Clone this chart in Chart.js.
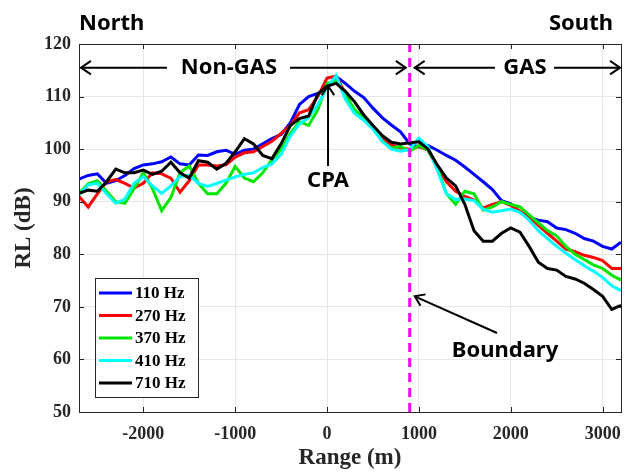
<!DOCTYPE html>
<html>
<head>
<meta charset="utf-8">
<script src="https://cdn.jsdelivr.net/npm/chart.js@4.4.1/dist/chart.umd.min.js"></script>
<style>
  html, body { margin: 0; padding: 0; background: #fff; }
  #wrap { width: 633px; height: 472px; position: relative; }
</style>
</head>
<body>
<div id="wrap"><canvas id="rlChart" width="633" height="472"></canvas></div>
<script>
// range axis in metres, sampled every 100 m
const ranges = [];
for (let r = -2700; r <= 3200; r += 100) ranges.push(r);

const freqLabels = ['110 Hz', '270 Hz', '370 Hz', '410 Hz', '710 Hz'];
const freqColors = ['#0000ff', '#ff0000', '#00e600', '#00ffff', '#000000'];

const rl110 = [94.3, 95.0, 95.3, 93.5, 94.0, 95.0, 96.3, 97.0, 97.2, 97.6, 98.5, 97.2, 97.0, 98.9, 98.8, 99.5, 99.8, 99.0, 99.8, 100.0,
  101.0, 102.0, 102.8, 105.0, 108.5, 110.0, 110.6, 111.5, 113.8, 112.5, 111.0, 109.8, 107.8, 106.0, 104.6, 103.3, 101.0, 100.4, 100.7, 99.8,
  98.8, 97.9, 96.6, 95.2, 93.8, 92.3, 90.2, 89.6, 88.0, 87.0, 86.5, 86.2, 85.0, 84.7, 84.0, 83.0, 82.5, 81.5, 81.0, 82.3];
const rl270 = [91.0, 89.0, 91.5, 93.8, 94.2, 93.5, 92.6, 93.5, 95.5, 95.3, 94.5, 91.8, 94.0, 97.0, 97.0, 96.8, 97.0, 98.5, 99.3, 99.5,
  100.5, 101.5, 103.0, 104.5, 106.9, 107.5, 110.0, 113.5, 113.9, 110.5, 107.0, 106.0, 104.3, 102.0, 100.8, 100.2, 100.0, 100.5, 99.8, 96.5,
  93.8, 92.0, 91.0, 90.3, 88.8, 89.5, 90.0, 89.3, 88.2, 87.0, 85.5, 84.0, 82.5, 81.0, 80.5, 79.8, 79.4, 78.8, 77.3, 77.3];
const rl370 = [91.6, 93.4, 94.0, 92.0, 90.0, 89.7, 92.5, 95.5, 92.5, 88.3, 90.8, 95.5, 96.8, 93.5, 91.5, 91.5, 93.5, 96.7, 94.5, 93.8,
  95.5, 98.0, 100.0, 103.0, 105.2, 104.5, 107.5, 112.5, 113.0, 110.5, 107.5, 106.0, 104.3, 101.5, 100.2, 100.5, 99.6, 100.7, 99.8, 96.5,
  91.5, 89.5, 92.0, 91.5, 88.4, 89.0, 90.0, 89.5, 89.0, 87.5, 86.0, 84.5, 83.5, 81.5, 80.0, 79.0, 78.0, 77.3, 76.0, 75.1];
const rl410 = [91.3, 93.2, 93.5, 91.5, 89.7, 90.5, 93.5, 94.8, 93.0, 91.6, 93.0, 94.8, 95.0, 93.5, 92.9, 93.5, 94.1, 94.7, 95.2, 95.5,
  96.5, 97.2, 99.0, 102.5, 104.8, 106.0, 108.5, 111.7, 114.0, 109.5, 106.8, 105.5, 103.8, 101.5, 100.0, 99.6, 99.9, 102.1, 100.5, 96.0,
  91.5, 90.4, 90.5, 90.2, 88.6, 88.0, 88.3, 88.6, 88.0, 86.5, 84.5, 83.0, 81.5, 80.2, 79.0, 77.8, 76.8, 75.6, 74.0, 73.1];
const rl710 = [91.6, 92.2, 92.0, 93.8, 96.2, 95.5, 95.5, 96.0, 95.2, 95.8, 97.5, 95.5, 94.5, 97.8, 97.5, 96.2, 97.3, 99.5, 102.0, 101.0,
  98.8, 98.2, 101.0, 104.5, 105.8, 106.3, 110.5, 112.0, 112.5, 111.0, 109.0, 106.5, 104.5, 102.6, 101.3, 101.0, 101.2, 101.4, 100.0, 97.0,
  94.5, 93.0, 89.5, 84.5, 82.5, 82.5, 84.0, 85.0, 84.2, 81.5, 78.5, 77.3, 77.0, 75.8, 75.3, 74.5, 73.3, 72.0, 69.5, 70.3];

const xTicks = [-2000, -1000, 0, 1000, 2000, 3000];
const yTicks = [50, 60, 70, 80, 90, 100, 110, 120];
const boundaryRange = 900;

const seriesList = [rl110, rl270, rl370, rl410, rl710];
const axisColor = '#262626';
const tickFont = { family: "'Liberation Serif', 'Times New Roman', serif", size: 18, weight: 'bold' };
const noteFont = "bold 22px 'Noto Sans', 'Open Sans', sans-serif";

const datasets = seriesList.map((vals, i) => ({
    label: freqLabels[i],
    data: vals.map((v, k) => ({ x: ranges[k], y: v })),
    borderColor: freqColors[i],
    borderWidth: 3,
    pointRadius: 0,
    tension: 0,
    order: 5 - i
}));

datasets.push({
    label: 'Boundary',
    data: [{ x: boundaryRange, y: yTicks[0] }, { x: boundaryRange, y: yTicks[yTicks.length - 1] }],
    borderColor: '#ff00ff',
    borderWidth: 3,
    borderDash: [9, 6],
    pointRadius: 0,
    order: 0
});

function arrowHead(ctx, x, y, dir, size) {
    // dir = angle the arrow points toward
    ctx.beginPath();
    ctx.moveTo(x - size * Math.cos(dir - 0.6), y - size * Math.sin(dir - 0.6));
    ctx.lineTo(x, y);
    ctx.lineTo(x - size * Math.cos(dir + 0.6), y - size * Math.sin(dir + 0.6));
    ctx.stroke();
}

const decorPlugin = {
    id: 'decor',
    afterDraw(chart) {
        const { ctx, chartArea: a, scales: { x, y } } = chart;
        ctx.save();

        // box + inner tick marks like MATLAB
        ctx.strokeStyle = axisColor;
        ctx.lineWidth = 1;
        ctx.strokeRect(a.left + 0.5, a.top + 0.5, a.right - a.left, a.bottom - a.top);
        ctx.beginPath();
        xTicks.forEach(t => {
            const px = Math.round(x.getPixelForValue(t)) + 0.5;
            ctx.moveTo(px, a.bottom); ctx.lineTo(px, a.bottom - 5);
            ctx.moveTo(px, a.top); ctx.lineTo(px, a.top + 5);
        });
        yTicks.forEach(t => {
            const py = Math.round(y.getPixelForValue(t)) + 0.5;
            ctx.moveTo(a.left, py); ctx.lineTo(a.left + 5, py);
            ctx.moveTo(a.right, py); ctx.lineTo(a.right - 5, py);
        });
        ctx.stroke();

        ctx.fillStyle = '#000';
        ctx.strokeStyle = '#000';
        ctx.font = noteFont;
        ctx.textBaseline = 'middle';

        // North / South
        ctx.textAlign = 'left';
        ctx.fillText('North', a.left, 24);
        ctx.textAlign = 'right';
        ctx.fillText('South', a.right - 8, 24);

        // region arrows
        const arrowY = y.getPixelForValue(115.5);
        const xb = x.getPixelForValue(boundaryRange);
        ctx.lineWidth = 2;
        ctx.textAlign = 'center';
        ctx.fillText('Non-GAS', 229, arrowY);
        ctx.beginPath();
        ctx.moveTo(a.left + 2, arrowY); ctx.lineTo(167, arrowY);
        ctx.moveTo(290, arrowY); ctx.lineTo(xb - 4, arrowY);
        ctx.stroke();
        arrowHead(ctx, a.left + 2, arrowY, Math.PI, 12);
        arrowHead(ctx, xb - 4, arrowY, 0, 12);

        ctx.fillText('GAS', 525, arrowY);
        ctx.beginPath();
        ctx.moveTo(xb + 5, arrowY); ctx.lineTo(495, arrowY);
        ctx.moveTo(554, arrowY); ctx.lineTo(a.right - 1, arrowY);
        ctx.stroke();
        arrowHead(ctx, xb + 5, arrowY, Math.PI, 12);
        arrowHead(ctx, a.right - 1, arrowY, 0, 12);

        // CPA
        const xc = x.getPixelForValue(0) + 1;
        ctx.beginPath();
        ctx.moveTo(xc, 166); ctx.lineTo(xc, y.getPixelForValue(112));
        ctx.stroke();
        arrowHead(ctx, xc, y.getPixelForValue(112), -Math.PI / 2, 11);
        ctx.fillText('CPA', xc, 181);

        // Boundary
        ctx.beginPath();
        ctx.moveTo(497, 333); ctx.lineTo(xb + 5, y.getPixelForValue(72));
        ctx.stroke();
        const ang = Math.atan2(y.getPixelForValue(72) - 333, xb + 5 - 497);
        arrowHead(ctx, xb + 5, y.getPixelForValue(72), ang, 11);
        ctx.fillText('Boundary', 505, 351);

        // legend
        const lx = 95, ly = 278, lw = 103, lh = 119;
        ctx.fillStyle = '#fff';
        ctx.fillRect(lx, ly, lw, lh);
        ctx.strokeStyle = axisColor;
        ctx.lineWidth = 1;
        ctx.strokeRect(lx + 0.5, ly + 0.5, lw, lh);
        ctx.font = "bold 17px 'Liberation Serif', 'Times New Roman', serif";
        ctx.textAlign = 'left';
        freqLabels.forEach((lab, i) => {
            const ry = ly + 15 + i * 22.5;
            ctx.strokeStyle = freqColors[i];
            ctx.lineWidth = 3;
            ctx.beginPath();
            ctx.moveTo(lx + 4, ry); ctx.lineTo(lx + 37, ry);
            ctx.stroke();
            ctx.fillStyle = '#000';
            ctx.fillText(lab, lx + 40, ry + 1);
        });

        ctx.restore();
    }
};

new Chart(document.getElementById('rlChart'), {
    type: 'line',
    data: { datasets },
    options: {
        responsive: false,
        animation: false,
        layout: { padding: { top: 44, right: 11, left: 0, bottom: 0 } },
        plugins: {
            legend: { display: false },
            tooltip: { enabled: false }
        },
        scales: {
            x: {
                type: 'linear',
                min: -2700,
                max: 3200,
                afterBuildTicks: s => { s.ticks = xTicks.map(v => ({ value: v })); },
                afterFit: s => { s.height = 60; },
                grid: { color: '#e6e6e6', drawTicks: false },
                border: { display: false },
                ticks: { color: axisColor, font: tickFont, padding: 12, callback: v => String(v) },
                title: {
                    display: true,
                    text: 'Range (m)',
                    color: axisColor,
                    font: { family: tickFont.family, size: 23, weight: 'bold' },
                    padding: { top: 0, bottom: 0 }
                }
            },
            y: {
                min: 50,
                max: 120,
                afterBuildTicks: s => { s.ticks = yTicks.map(v => ({ value: v })); },
                afterFit: s => { s.width = 79; },
                grid: { color: '#e6e6e6', drawTicks: false },
                border: { display: false },
                ticks: { color: axisColor, font: tickFont, padding: 8, callback: v => String(v) },
                title: {
                    display: true,
                    text: 'RL (dB)',
                    color: axisColor,
                    font: { family: tickFont.family, size: 23, weight: 'bold' },
                    padding: { top: 10, bottom: 0 }
                }
            }
        }
    },
    plugins: [decorPlugin]
});
</script>
</body>
</html>
